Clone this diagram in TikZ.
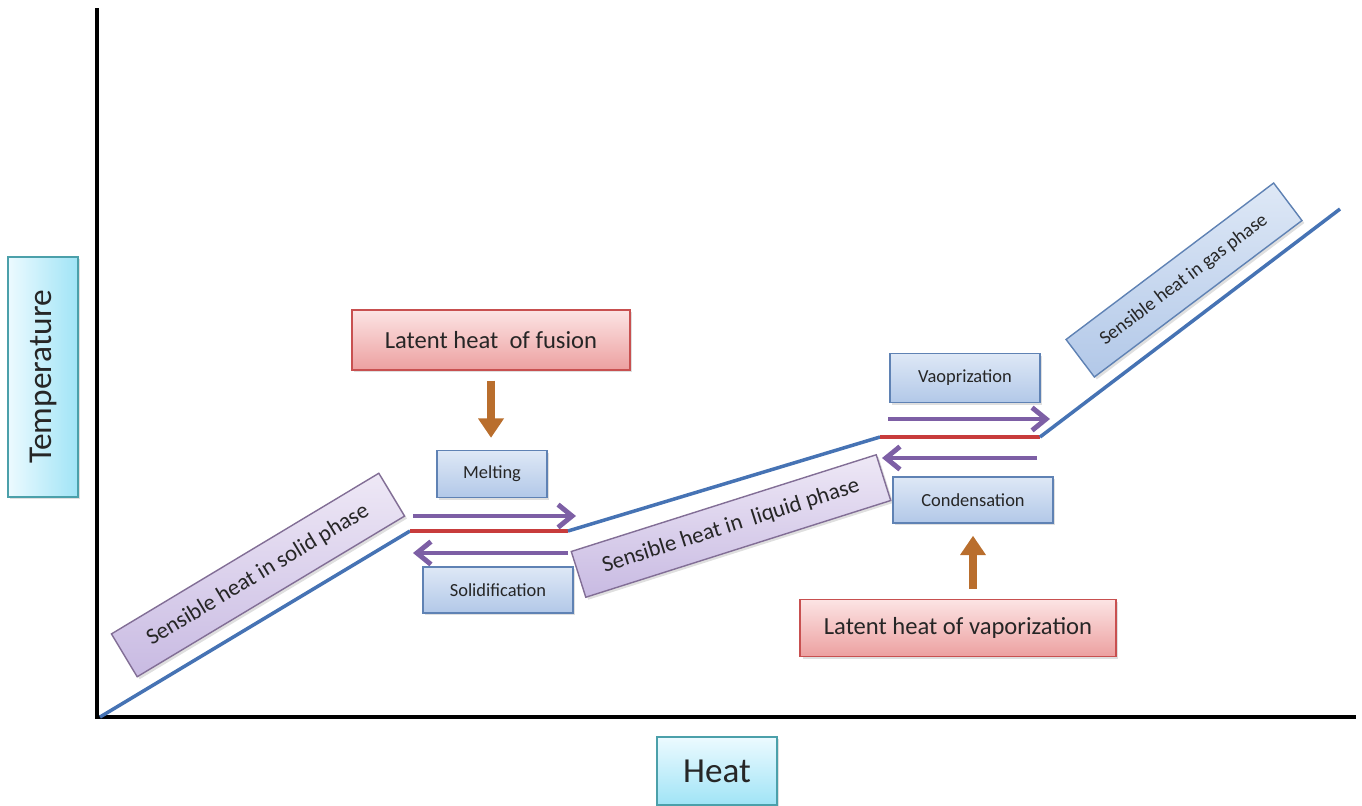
\documentclass[tikz,border=0pt]{standalone}
\usepackage{fontspec}
\setmainfont{Carlito}
\usetikzlibrary{arrows.meta,shadows}
\definecolor{curveblue}{RGB}{70,115,180}
\definecolor{curvered}{RGB}{200,60,60}
\definecolor{flowcol}{RGB}{125,95,165}
\definecolor{feedcol}{RGB}{185,110,45}
\definecolor{stagetop}{RGB}{222,232,246}
\definecolor{stagebot}{RGB}{178,200,232}
\definecolor{stageline}{RGB}{95,130,180}
\definecolor{lattop}{RGB}{252,228,228}
\definecolor{latbot}{RGB}{236,160,160}
\definecolor{latline}{RGB}{200,80,80}
\definecolor{phasetop}{RGB}{238,232,246}
\definecolor{phasebot}{RGB}{200,186,226}
\definecolor{phaseline}{RGB}{130,110,150}
\definecolor{axleft}{RGB}{236,250,255}
\definecolor{axright}{RGB}{160,228,246}
\definecolor{axline}{RGB}{75,160,170}
\begin{document}
\begin{tikzpicture}[x=0.02cm, y=-0.02cm,
		box/.style={draw, line width=0.8pt, inner sep=0pt, align=center, text=black!85, drop shadow={opacity=0.25, shadow xshift=1.4pt, shadow yshift=-1.4pt}},
		stagebox/.style={box, draw=stageline, top color=stagetop, bottom color=stagebot, font=\fontsize{10.5}{12}\selectfont},
		latentbox/.style={box, draw=latline, top color=lattop, bottom color=latbot, font=\fontsize{14}{16}\selectfont},
		phasebox/.style={box, draw=phaseline, top color=phasetop, bottom color=phasebot, font=\fontsize{13}{15}\selectfont},
		axisbox/.style={box, draw=axline},
		flow/.style={line width=2.8pt, draw=flowcol, -{Straight Barb[length=8pt, width=13pt]}},
		feed/.style={line width=5pt, draw=feedcol, -{Triangle[length=11pt, width=14pt]}}]
	\useasboundingbox (0,0) rectangle (1362,805);
	\draw[line width=2pt] (97,8) -- (97,717) -- (1356,717);
	\node (temp) at (43,377) [axisbox, rotate=90, minimum width=4.8cm, minimum height=1.4cm, left color=axleft, right color=axright, font=\fontsize{19}{22}\selectfont] {Temperature};
	\node (heat) at (717,771) [axisbox, minimum width=2.4cm, minimum height=1.36cm, top color=axleft, bottom color=axright, font=\fontsize{20}{24}\selectfont] {Heat};
		\coordinate (o) at (100,717);
		\coordinate (sa) at (410,531);
		\coordinate (sb) at (568,531);
		\coordinate (la) at (880,437);
		\coordinate (lb) at (1040,437);
		\coordinate (ge) at (1340,209);
	\draw[curveblue, line width=2pt] (o) -- (sa);
	\draw[curvered, line width=2pt] (sa) -- (sb);
	\draw[curveblue, line width=2pt] (sb) -- (la);
	\draw[curvered, line width=2pt] (la) -- (lb);
	\draw[curveblue, line width=2pt] (lb) -- (ge);
	\node (solid) at (258,575) [phasebox, rotate=31, minimum width=6.24cm, minimum height=1cm] {Sensible heat in solid phase};
	\node (liquid) at (731,526) [phasebox, rotate=17.6, minimum width=6.4cm, minimum height=0.96cm] {Sensible heat in\ \ liquid phase};
	\node (gas) at (1184,280) [phasebox, rotate=37, minimum width=5.2cm, minimum height=0.94cm, font=\fontsize{11}{13}\selectfont, top color=stagetop, bottom color=stagebot, draw=stageline] {Sensible heat in gas phase};
	\node (fus) at (491,340) [latentbox, minimum width=5.56cm, minimum height=1.2cm] {Latent heat\ \ of fusion};
	\node (melt) at (492,474) [stagebox, minimum width=2.2cm, minimum height=0.94cm] {Melting};
	\node (solidif) at (498,590) [stagebox, minimum width=3cm, minimum height=0.92cm] {Solidification};
	\node (vap) at (965,378) [stagebox, minimum width=3cm, minimum height=0.98cm] {Vaoprization};
	\node (cond) at (973,500) [stagebox, minimum width=3.2cm, minimum height=0.92cm] {Condensation};
	\node (lvap) at (958,628) [latentbox, minimum width=6.32cm, minimum height=1.14cm] {Latent heat of vaporization};
		\coordinate (mA) at (413,516);
		\coordinate (mB) at (576,516);
		\coordinate (sA) at (568,553);
		\coordinate (sB) at (413,553);
		\coordinate (vA) at (888,419);
		\coordinate (vB) at (1050,419);
		\coordinate (cA) at (1037,458);
		\coordinate (cB) at (882,458);
	\draw[flow] (mA) -- (mB);
	\draw[flow] (sA) -- (sB);
	\draw[flow] (vA) -- (vB);
	\draw[flow] (cA) -- (cB);
	\draw[feed, shorten <=0.2cm, shorten >=0.24cm] (fus.south) -- (fus.south |- melt.north);
	\draw[feed, shorten <=0.2cm, shorten >=0.24cm] (cond.south |- lvap.north) -- (cond.south);
\end{tikzpicture}
\end{document}
